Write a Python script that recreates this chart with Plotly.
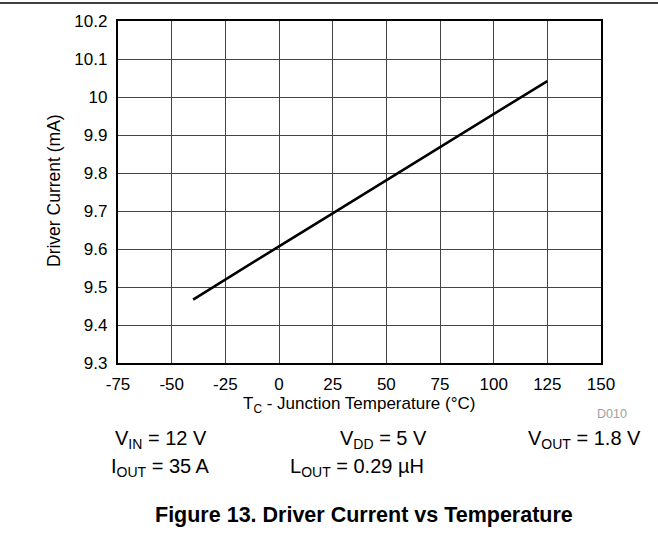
import plotly.graph_objects as go

# ---- data ----
temperature_c = [-40, -25, 0, 25, 50, 75, 100, 125]
driver_current_ma = [9.467, 9.52, 9.607, 9.694, 9.781, 9.868, 9.955, 10.042]

x_ticks = [-75, -50, -25, 0, 25, 50, 75, 100, 125, 150]
x_tick_labels = ["-75", "-50", "-25", "0", "25", "50", "75", "100", "125", "150"]
y_ticks = [9.3, 9.4, 9.5, 9.6, 9.7, 9.8, 9.9, 10.0, 10.1, 10.2]
y_tick_labels = ["9.3", "9.4", "9.5", "9.6", "9.7", "9.8", "9.9", "10", "10.1", "10.2"]

conditions_row1 = ["V<sub>IN</sub> = 12 V", "V<sub>DD</sub> = 5 V", "V<sub>OUT</sub> = 1.8 V"]
conditions_row2 = ["I<sub>OUT</sub> = 35 A", "L<sub>OUT</sub> = 0.29 µH"]
caption = "Figure 13. Driver Current vs Temperature"

# ---- layout geometry (pixels) ----
W, H = 658, 542
L, R, T, B = 118, 601, 21, 363
FONT = "Liberation Sans, Arial, sans-serif"


def px(xp):
    return (xp - L) / (R - L)


def py(yp):
    return (B - yp) / (B - T)


fig = go.Figure()
fig.add_trace(go.Scatter(
    x=temperature_c, y=driver_current_ma, mode="lines",
    line=dict(color="black", width=2.6), showlegend=False, hoverinfo="skip"))

axis_common = dict(
    showgrid=True, gridcolor="#444444", gridwidth=1,
    showline=True, linecolor="black", linewidth=2.2, mirror=True,
    zeroline=False, ticks="",
    tickfont=dict(family=FONT, size=17, color="black"),
)

fig.update_xaxes(range=[-75, 150], tickvals=x_ticks, ticktext=x_tick_labels,
                 ticklabelstandoff=4, **axis_common)
fig.update_yaxes(range=[9.3, 10.2], tickvals=y_ticks, ticktext=y_tick_labels,
                 ticklabelstandoff=5, **axis_common)

ann = []
# axis titles
ann.append(dict(text="Driver Current (mA)", x=px(54), y=py(191), textangle=-90,
                font=dict(family=FONT, size=17.5, color="black")))
ann.append(dict(text="T<sub>C</sub> - Junction Temperature (°C)", x=px(359), y=py(405),
                font=dict(family=FONT, size=17, color="black")))
ann.append(dict(text="D010", x=px(629), y=py(414), xanchor="right",
                font=dict(family=FONT, size=12.5, color="#a0a0a0")))
# conditions
row1_x = [113, 338, 526]
for t, xp in zip(conditions_row1, row1_x):
    ann.append(dict(text=t, x=px(xp), y=py(439), xanchor="left",
                    font=dict(family=FONT, size=20, color="black")))
row2_x = [109, 288]
for t, xp in zip(conditions_row2, row2_x):
    ann.append(dict(text=t, x=px(xp), y=py(467), xanchor="left",
                    font=dict(family=FONT, size=20, color="black")))
ann.append(dict(text="<b>" + caption + "</b>", x=px(364), y=py(515),
                font=dict(family=FONT, size=21.5, color="black")))

for a in ann:
    a.setdefault("xanchor", "center")
    a.update(xref="paper", yref="paper", yanchor="middle", showarrow=False)

fig.update_layout(
    width=W, height=H, autosize=False,
    margin=dict(l=L, r=W - R, t=T, b=H - B, pad=0),
    paper_bgcolor="white", plot_bgcolor="white",
    annotations=ann,
    shapes=[dict(type="line", xref="paper", yref="paper",
                 x0=px(0), x1=px(W), y0=py(3), y1=py(3),
                 line=dict(color="black", width=1.5))],
)

fig.write_html("out.html",
               config={"displayModeBar": False, "staticPlot": True},
               post_script="document.body.style.margin='0px';document.body.style.overflow='hidden';")
